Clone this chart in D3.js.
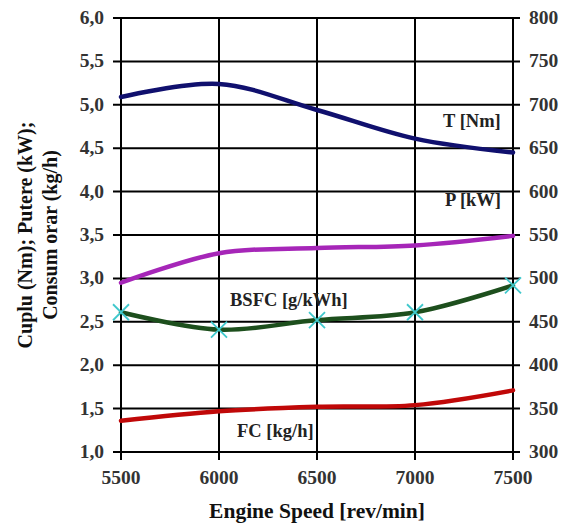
<!DOCTYPE html>
<html><head><meta charset="utf-8">
<script src="https://cdn.jsdelivr.net/npm/d3@7/dist/d3.min.js"></script>
<style>body{margin:0;background:#fff}</style>
</head><body>
<svg id="c" width="566" height="531"></svg>
<script>
const speeds = [5500, 6000, 6500, 7000, 7500];
const torque = [709, 724, 694, 661, 645];      // right axis, Nm
const power = [495, 529, 535, 538, 549];       // right axis, kW
const bsfc = [461, 441, 452, 461, 492];        // right axis, g/kWh
const fc = [1.36, 1.47, 1.52, 1.54, 1.71];     // left axis, kg/h
const leftTicks = [1.0,1.5,2.0,2.5,3.0,3.5,4.0,4.5,5.0,5.5,6.0];
const rightTicks = [300,350,400,450,500,550,600,650,700,750,800];
const xTicks = [5500,6000,6500,7000,7500];

const svg = d3.select("#c");
const L = 121, R = 513, T = 18, B = 452;
const x = d3.scaleLinear().domain([5500,7500]).range([L,R]);
const yL = d3.scaleLinear().domain([1,6]).range([B,T]);
const yR = d3.scaleLinear().domain([300,800]).range([B,T]);
const font = "'Liberation Serif', 'Times New Roman', serif";

// grid
const g = svg.append("g");
g.selectAll("line.h").data(leftTicks).join("line")
  .attr("x1", L-8).attr("x2", R+7).attr("y1", d=>yL(d)).attr("y2", d=>yL(d))
  .attr("stroke","#000").attr("stroke-width",2);
g.selectAll("line.v").data(xTicks).join("line")
  .attr("y1", T).attr("y2", B+8).attr("x1", d=>x(d)).attr("x2", d=>x(d))
  .attr("stroke","#000").attr("stroke-width",2);

// axes labels
const fmt = d3.format(".1f");
svg.append("g").selectAll("text").data(leftTicks).join("text")
  .attr("x", L-17).attr("y", d=>yL(d)+6).attr("text-anchor","end")
  .attr("font-family",font).attr("font-size",19.5).attr("font-weight","bold").attr("fill","#333")
  .text(d=>fmt(d).replace(".",","));
svg.append("g").selectAll("text").data(rightTicks).join("text")
  .attr("x", R+16).attr("y", d=>yR(d)+6).attr("text-anchor","start")
  .attr("font-family",font).attr("font-size",19.5).attr("font-weight","bold").attr("fill","#333")
  .text(d=>d);
svg.append("g").selectAll("text").data(xTicks).join("text")
  .attr("x", d=>x(d)).attr("y", 484).attr("text-anchor","middle")
  .attr("font-family",font).attr("font-size",19.5).attr("font-weight","bold").attr("fill","#333")
  .text(d=>d);

svg.append("text").attr("x",(L+R)/2).attr("y",518).attr("text-anchor","middle")
  .attr("font-family",font).attr("font-size",21.5).attr("font-weight","bold").attr("fill","#111")
  .text("Engine Speed [rev/min]");
const yt = svg.append("text").attr("transform","translate(0,235) rotate(-90)")
  .attr("text-anchor","middle").attr("font-family",font).attr("font-size",20)
  .attr("font-weight","bold").attr("fill","#111");
yt.append("tspan").attr("x",0).attr("y",32).text("Cuplu (Nm); Putere (kW);");
yt.append("tspan").attr("x",0).attr("y",57).text("Consum orar (kg/h)");

// lines
const curve = d3.curveCatmullRom.alpha(0.5);
function drawLine(vals, scale, color){
  const line = d3.line().x((d,i)=>x(speeds[i])).y(d=>scale(d)).curve(curve);
  svg.append("path").datum(vals).attr("d",line).attr("fill","none")
    .attr("stroke",color).attr("stroke-width",4.5).attr("stroke-linecap","round");
}
drawLine(torque, yR, "#10106e");
drawLine(power, yR, "#a626b8");
drawLine(bsfc, yR, "#1d4f1d");
drawLine(fc, yL, "#c00808");

// markers
const s = 8;
svg.append("g").selectAll("path").data(bsfc).join("path")
  .attr("d",(d,i)=>{const cx=x(speeds[i]), cy=yR(d);
    return `M${cx-s},${cy-s}L${cx+s},${cy+s}M${cx-s},${cy+s}L${cx+s},${cy-s}`;})
  .attr("stroke","#40c8cc").attr("stroke-width",1.8).attr("fill","none");

// series labels
const labels = [["T [Nm]",443,127],["P [kW]",445,206],["BSFC [g/kWh]",230,306],["FC [kg/h]",237,437]];
svg.append("g").selectAll("text").data(labels).join("text")
  .attr("x",d=>d[1]).attr("y",d=>d[2]).attr("font-family",font).attr("font-size",18.5)
  .attr("font-weight","bold").attr("fill","#222").text(d=>d[0]);
</script>
</body></html>
